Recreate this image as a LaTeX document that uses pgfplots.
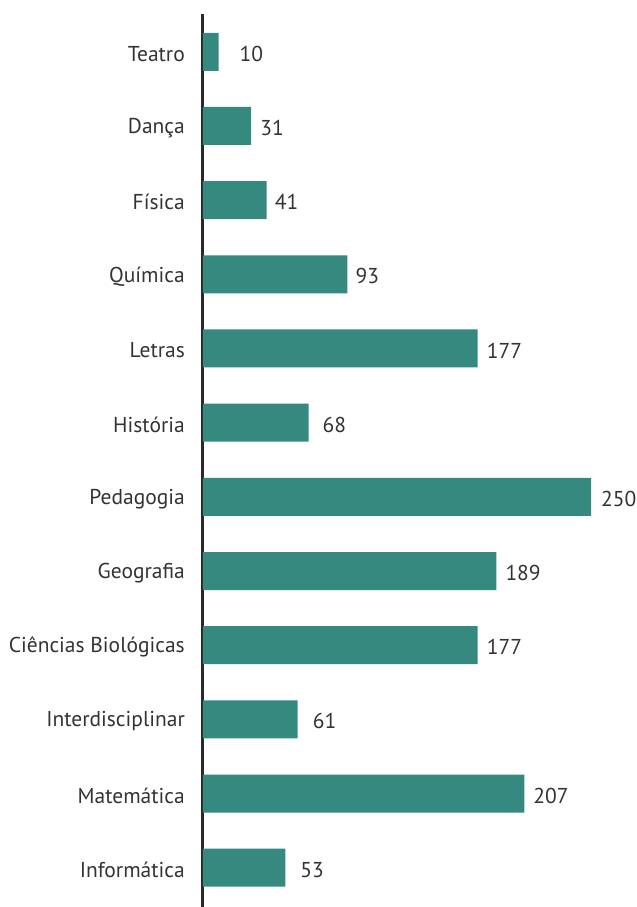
\documentclass[border=0pt]{standalone}
\usepackage{fontspec}
\setmainfont{PT Sans}
\usepackage{pgfplots}
\pgfplotsset{compat=1.18}
\usepackage{pgfplotstable}
\definecolor{barteal}{HTML}{35897F}
\definecolor{txt}{HTML}{333333}

% y position (0 = bottom), value, label gap in bp
\pgfplotstableread{
y v dx
0 53 15
1 207 9
2 61 15
3 177 9
4 189 9
5 250 10
6 68 14
7 177 9
8 93 8
9 41 8
10 31 9
11 10 21
}\cursos

\begin{document}
\fontsize{21.5bp}{26bp}\selectfont
\begin{tikzpicture}
\begin{axis}[
  at={(0,0)},anchor=south west,
  scale only axis,width=388bp,height=893bp,
  xbar,bar width=38bp,
  xmin=0,xmax=250,ymin=-0.53,ymax=11.51,
  axis x line=none,axis y line*=left,
  y axis line style={draw=txt!80!black,line width=3bp,-},
  ytick=data,major tick length=0pt,
  yticklabels={Informática,Matemática,Interdisciplinar,Ciências Biológicas,Geografia,Pedagogia,História,Letras,Química,Física,Dança,Teatro},
  yticklabel style={inner sep=0pt,xshift=-18bp,yshift=-2bp,text=txt,font=\fontsize{21.5bp}{26bp}\selectfont},
  nodes near coords,
  /pgf/number format/assume math mode=true,
  visualization depends on={\thisrow{dx}\as\dx},
  every node near coord/.append style={anchor=west,inner sep=0pt,xshift=\dx bp,yshift=-2bp,text=txt,font=\fontsize{21.5bp}{26bp}\selectfont},
  clip=false,
]
\addplot[fill=barteal,draw=none] table[x=v,y=y] {\cursos};
\end{axis}
\pgfresetboundingbox
\path (-203bp,0) rectangle (434bp,907bp);
\end{tikzpicture}
\end{document}
